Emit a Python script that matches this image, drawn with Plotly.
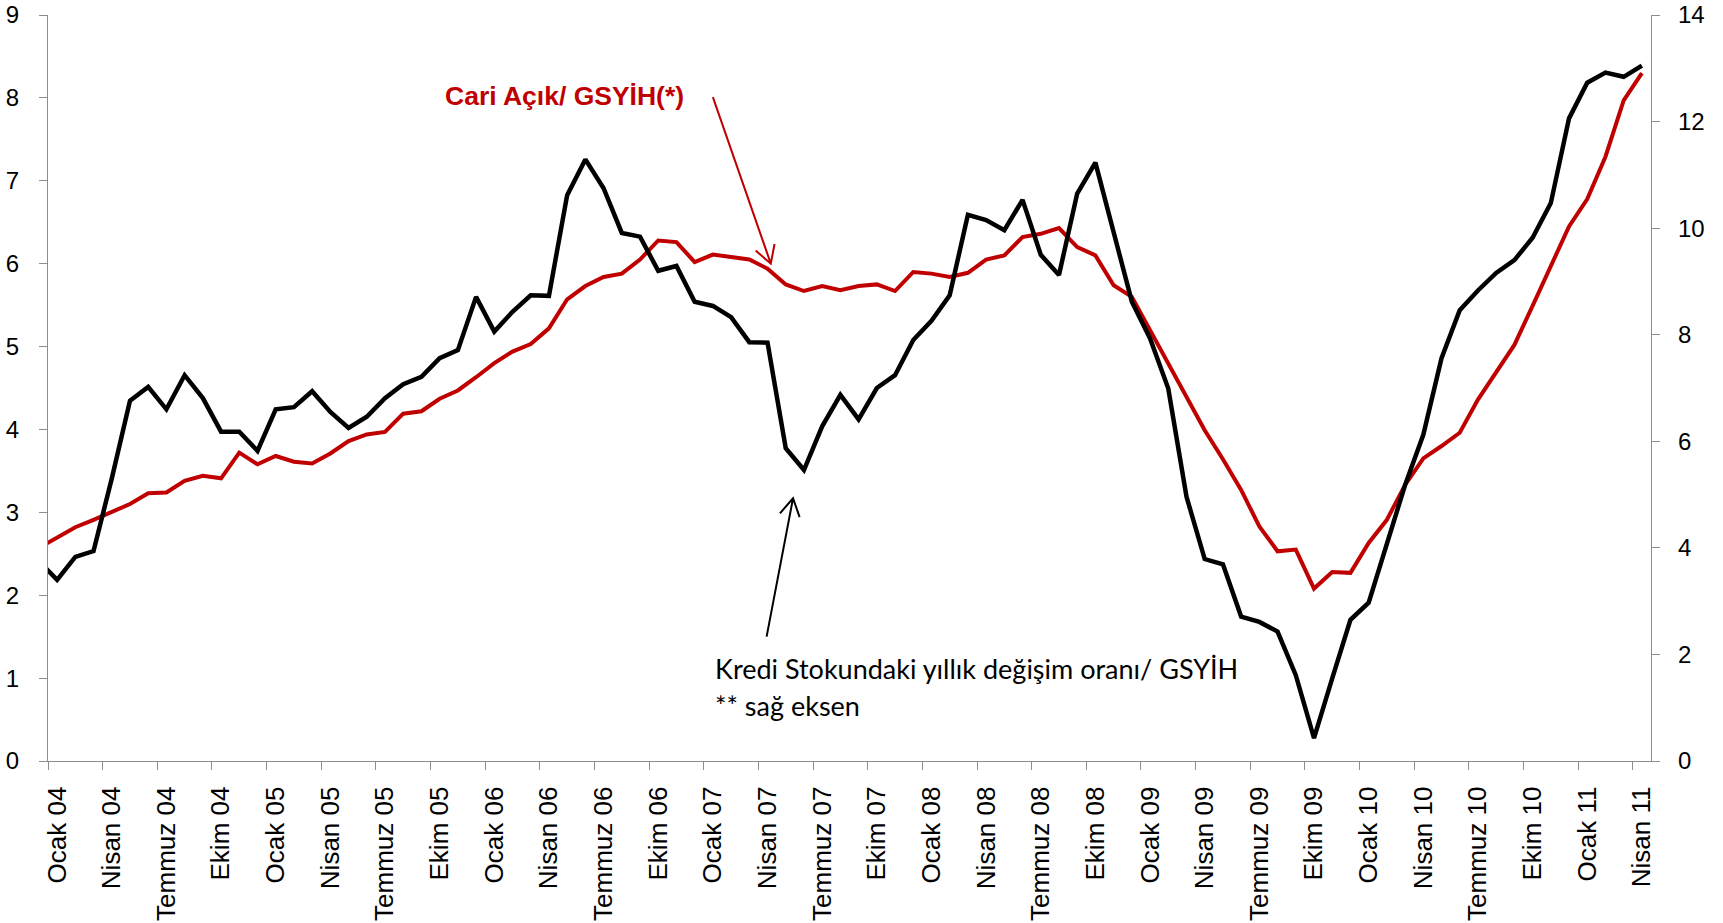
import math
import numpy as np
import plotly.graph_objects as go

# Monthly periods: Aralık 03 (partly outside the axis range) through Nisan 11
MONTHS_TR = ["Ocak", "Şubat", "Mart", "Nisan", "Mayıs", "Haziran",
             "Temmuz", "Ağustos", "Eylül", "Ekim", "Kasım", "Aralık"]
periods = ["Aralık 03"] + [f"{m} {y:02d}" for y in range(4, 12) for m in MONTHS_TR][:88]

# Cari açık / GSYİH (%), left axis
cari_acik = [
    2.57,
    2.70, 2.82, 2.91, 3.01, 3.10, 3.23, 3.24, 3.38, 3.44, 3.41, 3.72, 3.58,
    3.68, 3.61, 3.59, 3.71, 3.86, 3.94, 3.97, 4.19, 4.22, 4.37, 4.47, 4.63,
    4.80, 4.94, 5.03, 5.22, 5.57, 5.73, 5.84, 5.88, 6.05, 6.28, 6.26, 6.02,
    6.11, 6.08, 6.05, 5.94, 5.75, 5.67, 5.73, 5.68, 5.73, 5.75, 5.67, 5.90,
    5.88, 5.84, 5.89, 6.05, 6.10, 6.32, 6.36, 6.43, 6.20, 6.10, 5.74, 5.60,
    5.20, 4.78, 4.39, 3.99, 3.64, 3.27, 2.83, 2.53, 2.55, 2.08, 2.28, 2.27,
    2.63, 2.91, 3.33, 3.65, 3.80, 3.96, 4.36, 4.68, 5.02, 5.49, 5.98, 6.45,
    6.78, 7.29, 7.97, 8.30,
]

# Kredi stokundaki yıllık değişim / GSYİH (%), right axis
kredi_degisim = [
    3.75,
    3.40, 3.83, 3.94, 5.30, 6.76, 7.02, 6.60, 7.24, 6.81, 6.18, 6.18, 5.82,
    6.60, 6.64, 6.94, 6.55, 6.25, 6.46, 6.81, 7.07, 7.21, 7.56, 7.71, 8.71,
    8.06, 8.43, 8.74, 8.73, 10.62, 11.29, 10.75, 9.91, 9.84, 9.20, 9.29, 8.62,
    8.54, 8.33, 7.86, 7.85, 5.87, 5.46, 6.28, 6.87, 6.41, 7.00, 7.24, 7.90,
    8.26, 8.74, 10.25, 10.15, 9.96, 10.53, 9.50, 9.12, 10.65, 11.23, 9.96, 8.62,
    7.93, 6.99, 4.96, 3.79, 3.69, 2.71, 2.61, 2.43, 1.61, 0.43, 1.55, 2.65,
    2.97, 4.08, 5.18, 6.12, 7.56, 8.46, 8.83, 9.16, 9.40, 9.82, 10.47, 12.06,
    12.73, 12.92, 12.84, 13.05,
]

x_pos = np.arange(len(periods)) - 1          # Ocak 04 -> 0
label_pos = list(range(0, 88, 3))            # quarterly labels
label_txt = [periods[i + 1] for i in label_pos]
boundaries = [p - 0.5 for p in label_pos]    # ticks sit between months

RED = "#C00000"
GRAY = "#8c8c8c"
W, H = 1723, 923
M = dict(l=48, r=72, t=15, b=162)
X_RANGE = [-0.5, 87.5]
Y_RANGE = [0, 9]
Y2_RANGE = [0, 14]

fig = go.Figure()
fig.add_trace(go.Scatter(x=x_pos, y=cari_acik, mode="lines",
                         line=dict(color=RED, width=4), name="Cari Açık/ GSYİH"))
fig.add_trace(go.Scatter(x=x_pos, y=kredi_degisim, mode="lines", yaxis="y2",
                         line=dict(color="black", width=4.5),
                         name="Kredi Stokundaki yıllık değişim oranı/ GSYİH"))

# open "V" arrows, built in pixel space then mapped back to data units
sx = (W - M["l"] - M["r"]) / (X_RANGE[1] - X_RANGE[0])
sy = (H - M["t"] - M["b"]) / (Y_RANGE[1] - Y_RANGE[0])


def arrow_path(tail, tip, head=20, ang=30):
    tx, ty = tail[0] * sx, -tail[1] * sy
    hx, hy = tip[0] * sx, -tip[1] * sy
    dx, dy = tx - hx, ty - hy
    n = math.hypot(dx, dy)
    ux, uy = dx / n, dy / n
    pts = []
    for s in (1, -1):
        a = math.radians(ang * s)
        rx = ux * math.cos(a) - uy * math.sin(a)
        ry = ux * math.sin(a) + uy * math.cos(a)
        pts.append(((hx + head * rx) / sx, -(hy + head * ry) / sy))
    (a1x, a1y), (a2x, a2y) = pts
    return (f"M {tail[0]},{tail[1]} L {tip[0]},{tip[1]} "
            f"M {a1x},{a1y} L {tip[0]},{tip[1]} L {a2x},{a2y}")


fig.add_shape(type="path", xref="x", yref="y",
              path=arrow_path((36.0, 8.01), (39.18, 6.00)),
              line=dict(color=RED, width=2))
fig.add_shape(type="path", xref="x", yref="y",
              path=arrow_path((38.95, 1.50), (40.4, 3.17)),
              line=dict(color="black", width=2))

fig.add_annotation(x=21.2, y=8.02, xref="x", yref="y", showarrow=False,
                   text="<b>Cari Açık/ GSYİH(*)</b>", xanchor="left", yanchor="middle",
                   font=dict(family="Liberation Sans, Arial", size=26.5, color=RED))
fig.add_annotation(x=36.0, y=1.115, xref="x", yref="y", showarrow=False,
                   text="Kredi Stokundaki yıllık değişim oranı/ GSYİH",
                   xanchor="left", yanchor="middle",
                   font=dict(family="Lato, Open Sans, sans-serif", size=27, color="black"))
fig.add_annotation(x=36.0, y=0.675, xref="x", yref="y", showarrow=False,
                   text="** sağ eksen", xanchor="left", yanchor="middle",
                   font=dict(family="Lato, Open Sans, sans-serif", size=27, color="black"))

axis_common = dict(showgrid=False, zeroline=False, showline=True, automargin=False,
                   linecolor=GRAY, linewidth=1.3, ticks="outside", ticklen=8,
                   tickcolor=GRAY, tickwidth=1.3)

fig.update_layout(
    width=W, height=H, margin=M,
    plot_bgcolor="white", paper_bgcolor="white", showlegend=False,
    font=dict(family="Liberation Sans, Arial, sans-serif", color="black"),
    xaxis=dict(range=X_RANGE, showgrid=False, zeroline=False, showline=True,
               automargin=False, linecolor=GRAY, linewidth=1.3, tickmode="array",
               tickvals=label_pos, ticktext=label_txt, ticks="",
               tickangle=-90, tickfont=dict(size=26), ticklabelstandoff=14,
               minor=dict(tickmode="array", tickvals=boundaries, ticks="outside",
                          ticklen=8, tickcolor=GRAY, tickwidth=1.3, showgrid=False)),
    yaxis=dict(range=Y_RANGE, dtick=1, tickfont=dict(size=24),
               ticklabelstandoff=15, **axis_common),
    yaxis2=dict(range=Y2_RANGE, dtick=2, overlaying="y", side="right",
                tickfont=dict(size=24), ticklabelstandoff=13, **axis_common),
)

fig.write_html("out.html")
